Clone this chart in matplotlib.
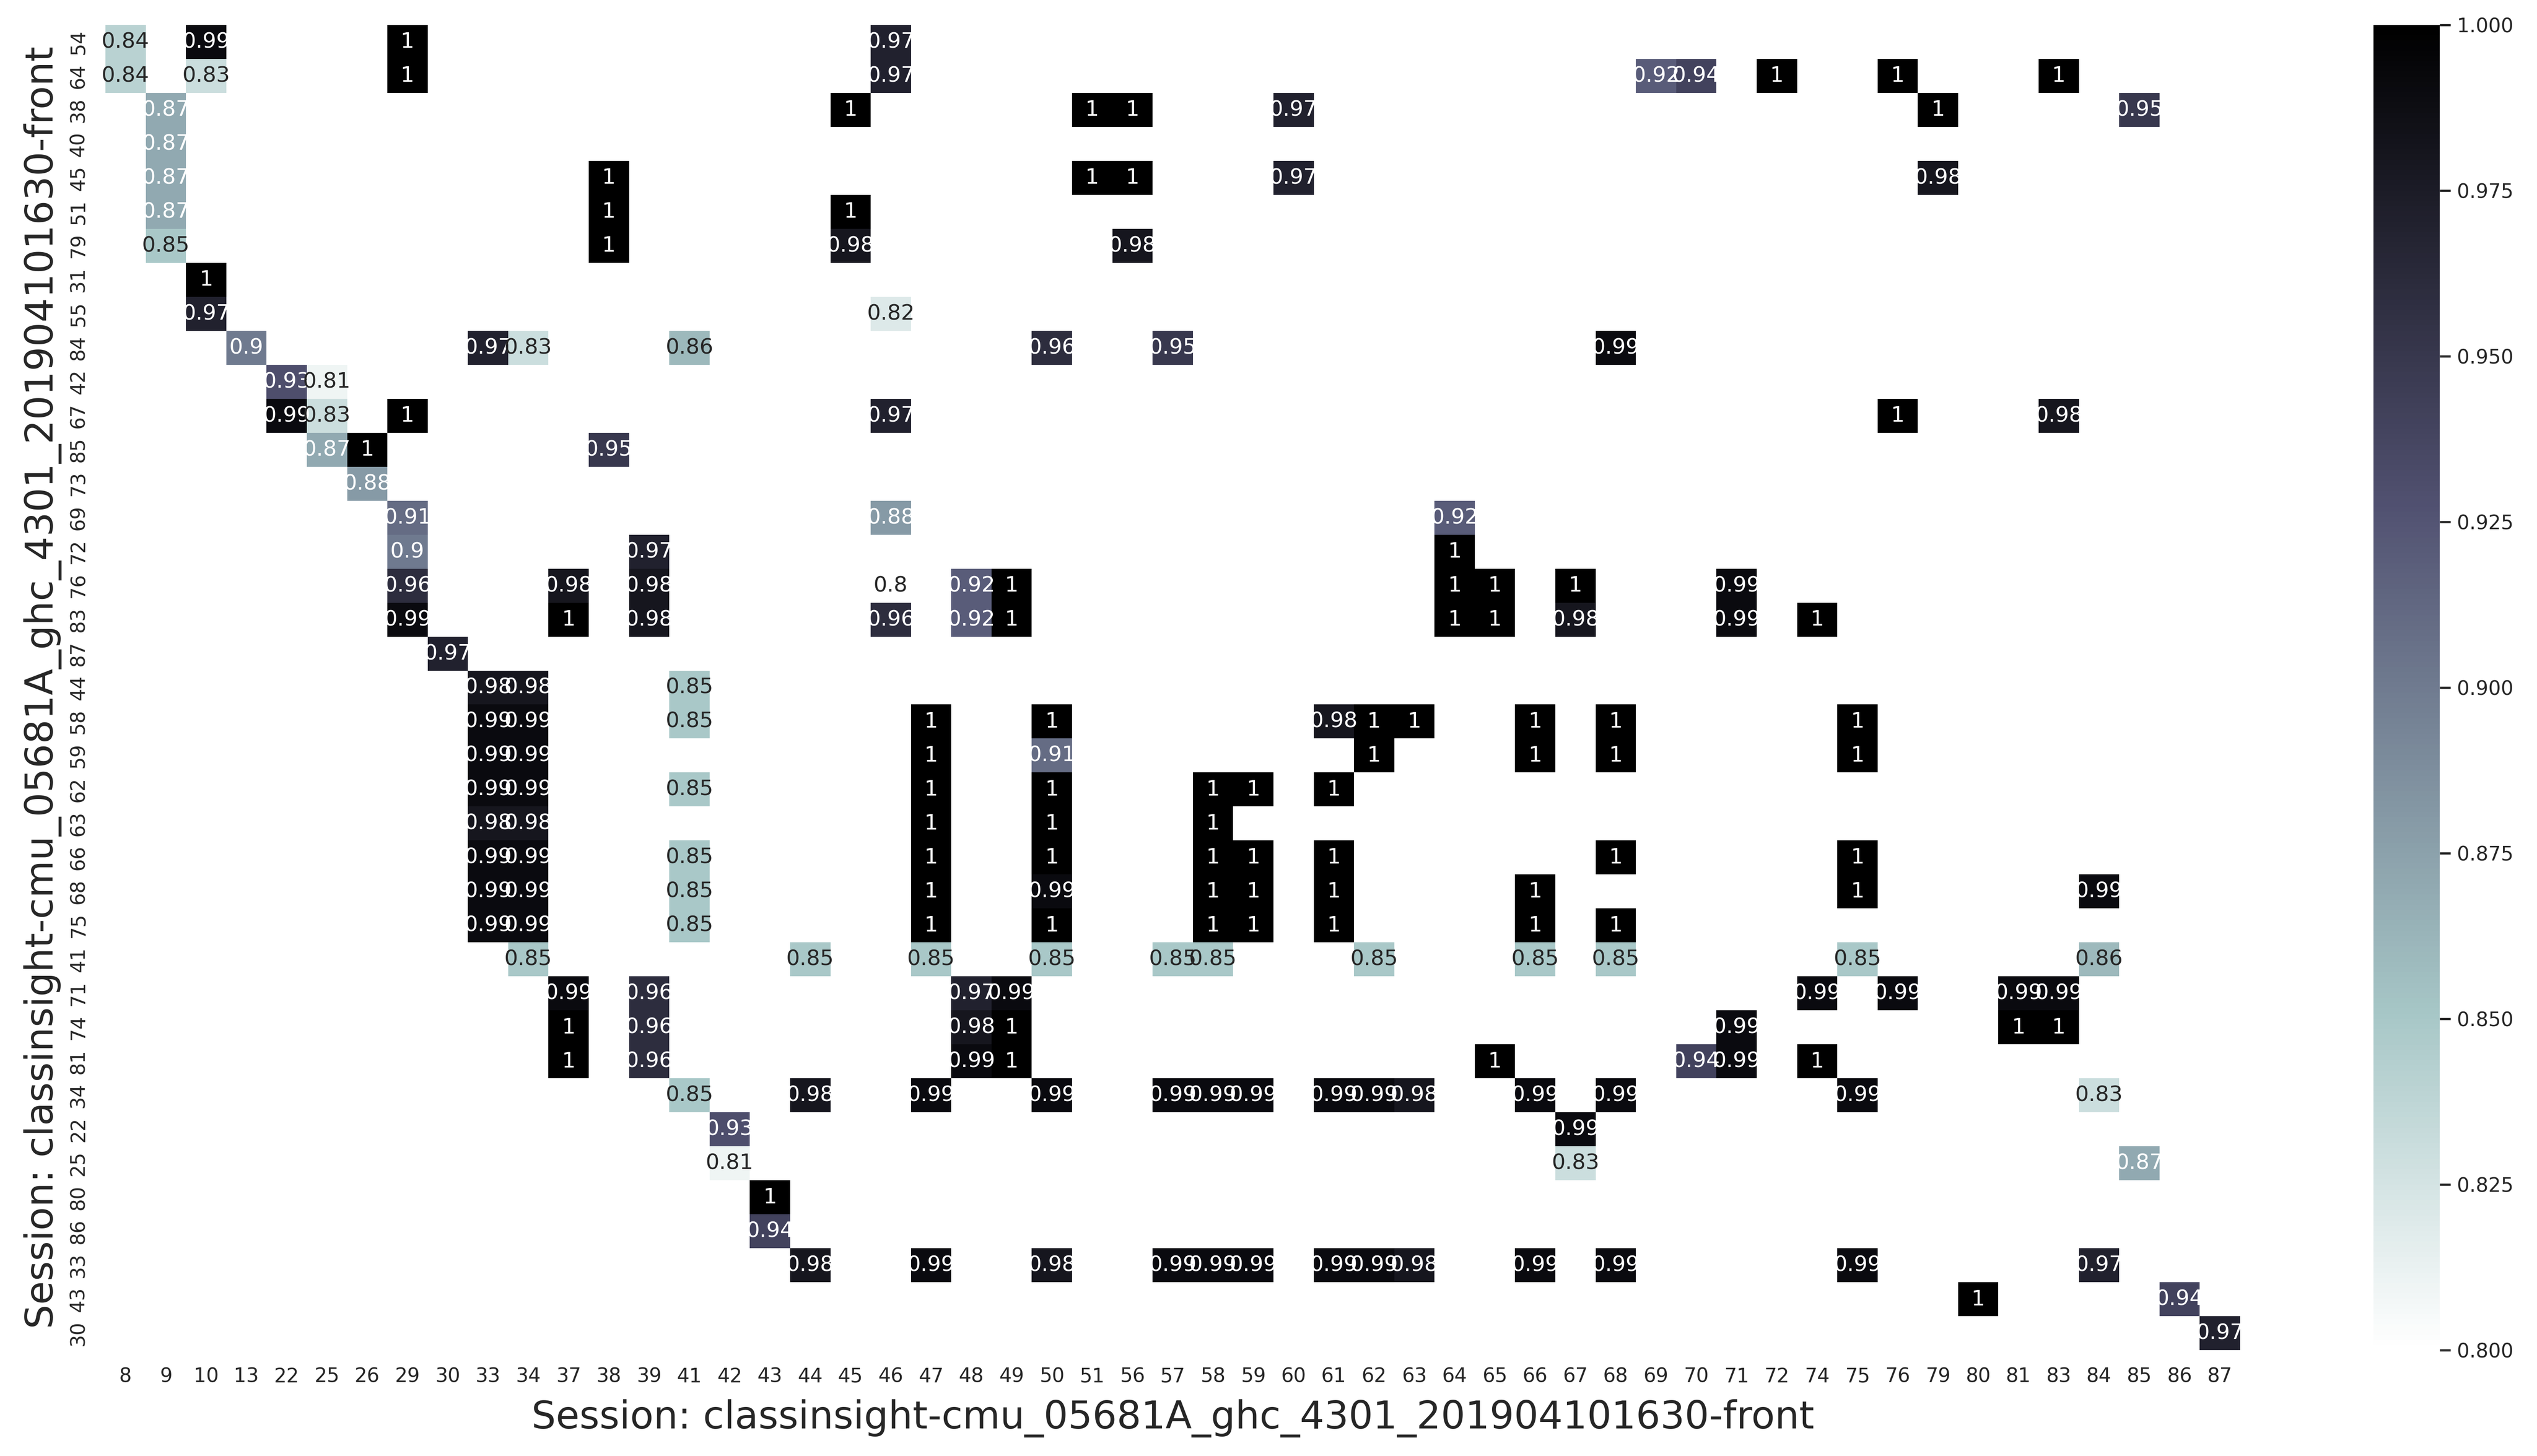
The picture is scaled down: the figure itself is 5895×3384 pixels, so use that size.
import numpy as np
import pandas as pd
import matplotlib
matplotlib.use("Agg")
import matplotlib.pyplot as plt
import seaborn as sns

# ---- data -------------------------------------------------------------
col_labels = [8, 9, 10, 13, 22, 25, 26, 29, 30, 33, 34, 37, 38, 39, 41, 42, 43, 44,
              45, 46, 47, 48, 49, 50, 51, 56, 57, 58, 59, 60, 61, 62, 63, 64, 65, 66,
              67, 68, 69, 70, 71, 72, 74, 75, 76, 79, 80, 81, 83, 84, 85, 86, 87]
row_labels = [54, 64, 38, 40, 45, 51, 79, 31, 55, 84, 42, 67, 85, 73, 69, 72, 76, 83,
              87, 44, 58, 59, 62, 63, 66, 68, 75, 41, 71, 74, 81, 34, 22, 25, 80, 86,
              33, 43, 30]

# sparse rows: (column label, value)
row_54 = [(8, .84), (10, .99), (29, 1), (46, .97)]
row_64 = [(8, .84), (10, .83), (29, 1), (46, .97), (69, .92), (70, .94), (72, 1), (76, 1), (83, 1)]
row_38 = [(9, .87), (45, 1), (51, 1), (56, 1), (60, .97), (79, 1), (85, .95)]
row_40 = [(9, .87)]
row_45 = [(9, .87), (38, 1), (51, 1), (56, 1), (60, .97), (79, .98)]
row_51 = [(9, .87), (38, 1), (45, 1)]
row_79 = [(9, .85), (38, 1), (45, .98), (56, .98)]
row_31 = [(10, 1)]
row_55 = [(10, .97), (46, .82)]
row_84 = [(13, .9), (33, .97), (34, .83), (41, .86), (50, .96), (57, .95), (68, .99)]
row_42 = [(22, .93), (25, .81)]
row_67 = [(22, .99), (25, .83), (29, 1), (46, .97), (76, 1), (83, .98)]
row_85 = [(25, .87), (26, 1), (38, .95)]
row_73 = [(26, .88)]
row_69 = [(29, .91), (46, .88), (64, .92)]
row_72 = [(29, .9), (39, .97), (64, 1)]
row_76 = [(29, .96), (37, .98), (39, .98), (46, .8), (48, .92), (49, 1), (64, 1), (65, 1), (67, 1), (71, .99)]
row_83 = [(29, .99), (37, 1), (39, .98), (46, .96), (48, .92), (49, 1), (64, 1), (65, 1), (67, .98), (71, .99), (74, 1)]
row_87 = [(30, .97)]
row_44 = [(33, .98), (34, .98), (41, .85)]
row_58 = [(33, .99), (34, .99), (41, .85), (47, 1), (50, 1), (61, .98), (62, 1), (63, 1), (66, 1), (68, 1), (75, 1)]
row_59 = [(33, .99), (34, .99), (47, 1), (50, .91), (62, 1), (66, 1), (68, 1), (75, 1)]
row_62 = [(33, .99), (34, .99), (41, .85), (47, 1), (50, 1), (58, 1), (59, 1), (61, 1)]
row_63 = [(33, .98), (34, .98), (47, 1), (50, 1), (58, 1)]
row_66 = [(33, .99), (34, .99), (41, .85), (47, 1), (50, 1), (58, 1), (59, 1), (61, 1), (68, 1), (75, 1)]
row_68 = [(33, .99), (34, .99), (41, .85), (47, 1), (50, .99), (58, 1), (59, 1), (61, 1), (66, 1), (75, 1), (84, .99)]
row_75 = [(33, .99), (34, .99), (41, .85), (47, 1), (50, 1), (58, 1), (59, 1), (61, 1), (66, 1), (68, 1)]
row_41 = [(34, .85), (44, .85), (47, .85), (50, .85), (57, .85), (58, .85), (62, .85), (66, .85), (68, .85), (75, .85), (84, .86)]
row_71 = [(37, .99), (39, .96), (48, .97), (49, .99), (74, .99), (76, .99), (81, .99), (83, .99)]
row_74 = [(37, 1), (39, .96), (48, .98), (49, 1), (71, .99), (81, 1), (83, 1)]
row_81 = [(37, 1), (39, .96), (48, .99), (49, 1), (65, 1), (70, .94), (71, .99), (74, 1)]
row_34 = [(41, .85), (44, .98), (47, .99), (50, .99), (57, .99), (58, .99), (59, .99), (61, .99), (62, .99), (63, .98), (66, .99), (68, .99), (75, .99), (84, .83)]
row_22 = [(42, .93), (67, .99)]
row_25 = [(42, .81), (67, .83), (85, .87)]
row_80 = [(43, 1)]
row_86 = [(43, .94)]
row_33 = [(44, .98), (47, .99), (50, .98), (57, .99), (58, .99), (59, .99), (61, .99), (62, .99), (63, .98), (66, .99), (68, .99), (75, .99), (84, .97)]
row_43 = [(80, 1), (86, .94)]
row_30 = [(87, .97)]

rows_data = [row_54, row_64, row_38, row_40, row_45, row_51, row_79, row_31, row_55,
             row_84, row_42, row_67, row_85, row_73, row_69, row_72, row_76, row_83,
             row_87, row_44, row_58, row_59, row_62, row_63, row_66, row_68, row_75,
             row_41, row_71, row_74, row_81, row_34, row_22, row_25, row_80, row_86,
             row_33, row_43, row_30]

axis_title = "Session: classinsight-cmu_05681A_ghc_4301_201904101630-front"

# ---- build matrix -------------------------------------------------------
df = pd.DataFrame(np.nan, index=row_labels, columns=col_labels)
for rlab, entries in zip(row_labels, rows_data):
    for clab, v in entries:
        df.loc[rlab, clab] = float(v)

# ---- plot ---------------------------------------------------------------
sns.set_theme(style="white")
plt.rcParams['font.family'] = ['DejaVu Sans']

W, H = 5895, 3384
fig = plt.figure(figsize=(W / 300, H / 300), dpi=300)
ax = fig.add_axes([245 / W, 1 - 3138 / H, (5205 - 245) / W, (3138 - 58) / H])
cax = fig.add_axes([5515 / W, 1 - 3138 / H, 154 / W, (3138 - 58) / H])

sns.heatmap(df, cmap="bone_r", vmin=0.8, vmax=1.0, annot=True, ax=ax, cbar_ax=cax,
            xticklabels=col_labels, yticklabels=row_labels)

ax.set_yticklabels(ax.get_yticklabels(), rotation=90, va="center")
ax.set_xticklabels(ax.get_xticklabels(), rotation=0)
ax.set_xlabel(axis_title, fontsize=21.4, labelpad=7)
ax.set_ylabel(axis_title, fontsize=21.4)

fig.savefig("out.png", dpi=300)
